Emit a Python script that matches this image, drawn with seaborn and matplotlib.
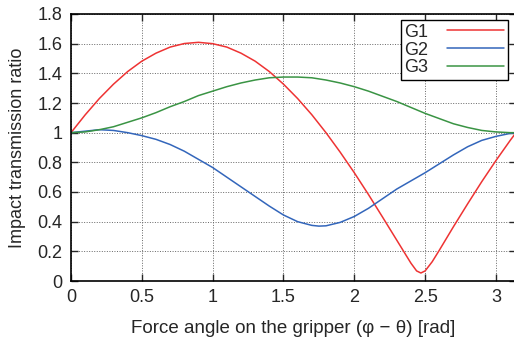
import matplotlib
matplotlib.use("Agg")
import matplotlib.pyplot as plt
import seaborn as sns
import numpy as np
import pandas as pd

x_g1 = [0.0, 0.1, 0.2, 0.3, 0.4, 0.5, 0.6, 0.7, 0.8, 0.9, 1.0, 1.1, 1.2, 1.3, 1.4, 1.5,
        1.6, 1.7, 1.8, 1.9, 2.0, 2.1, 2.2, 2.3, 2.4, 2.44, 2.47, 2.5, 2.55, 2.6, 2.7, 2.8,
        2.9, 3.0, 3.1, 3.1416]
g1 = [1.00, 1.12, 1.23, 1.327, 1.412, 1.482, 1.536, 1.577, 1.601, 1.609, 1.600, 1.577,
      1.536, 1.482, 1.412, 1.327, 1.230, 1.121, 1.000, 0.869, 0.730, 0.583, 0.430, 0.275,
      0.12, 0.068, 0.054, 0.068, 0.13, 0.207, 0.366, 0.520, 0.670, 0.812, 0.947, 1.0]

x_g2 = [0.0, 0.1, 0.2, 0.3, 0.4, 0.5, 0.6, 0.7, 0.8, 0.9, 1.0, 1.1, 1.2, 1.3, 1.4, 1.5,
        1.6, 1.7, 1.75, 1.8, 1.9, 2.0, 2.1, 2.2, 2.3, 2.4, 2.5, 2.6, 2.7, 2.8, 2.9, 3.0,
        3.1, 3.1416]
g2 = [1.00, 1.01, 1.02, 1.015, 1.00, 0.98, 0.955, 0.92, 0.875, 0.82, 0.765, 0.70, 0.635,
      0.57, 0.505, 0.445, 0.40, 0.375, 0.37, 0.372, 0.395, 0.435, 0.49, 0.555, 0.62, 0.675,
      0.73, 0.79, 0.85, 0.905, 0.948, 0.975, 0.995, 1.0]

x_g3 = [0.0, 0.1, 0.2, 0.3, 0.4, 0.5, 0.6, 0.7, 0.8, 0.9, 1.0, 1.1, 1.2, 1.3, 1.4, 1.5,
        1.6, 1.7, 1.8, 1.9, 2.0, 2.1, 2.2, 2.3, 2.4, 2.5, 2.6, 2.7, 2.8, 2.9, 3.0, 3.1,
        3.1416]
g3 = [1.00, 1.005, 1.02, 1.04, 1.07, 1.10, 1.135, 1.175, 1.21, 1.25, 1.28, 1.31, 1.335,
      1.355, 1.37, 1.375, 1.375, 1.37, 1.355, 1.335, 1.31, 1.28, 1.245, 1.21, 1.17, 1.13,
      1.095, 1.06, 1.035, 1.015, 1.005, 1.0, 1.0]

series_names = ["G1", "G2", "G3"]
colors = ["#ee3333", "#3366bb", "#3a9444"]
xticks = [0, 0.5, 1, 1.5, 2, 2.5, 3]
yticks = [0, 0.2, 0.4, 0.6, 0.8, 1, 1.2, 1.4, 1.6, 1.8]
xlabel = "Force angle on the gripper (\u03c6 \u2212 \u03b8) [rad]"
ylabel = "Impact transmission ratio"

df = pd.concat([
    pd.DataFrame({"x": x_g1, "y": g1, "s": "G1"}),
    pd.DataFrame({"x": x_g2, "y": g2, "s": "G2"}),
    pd.DataFrame({"x": x_g3, "y": g3, "s": "G3"}),
], ignore_index=True)

sns.set_style("white")
plt.rcParams["font.family"] = ["Liberation Sans Narrow", "Liberation Sans", "DejaVu Sans"]

W, H = 514, 340
fig = plt.figure(figsize=(W / 100, H / 100), dpi=100)
left, right, top, bottom = 71, 516, 14, 281
ax = fig.add_axes([left / W, 1 - bottom / H, (right - left) / W, (bottom - top) / H])

sns.lineplot(data=df, x="x", y="y", hue="s", palette=dict(zip(series_names, colors)),
             sort=False, estimator=None, linewidth=1.1, ax=ax, legend=True)

ax.set_xlim(0, np.pi)
ax.set_ylim(0, 1.8)
ax.set_xticks(xticks)
ax.set_xticklabels([("%g" % t) for t in xticks])
ax.set_yticks(yticks)
ax.set_yticklabels([("%g" % t) for t in yticks])
ax.grid(True, linestyle=(0, (1, 1.6)), color="#666666", linewidth=0.7)
ax.tick_params(direction="in", length=5, width=1, labelsize=13, pad=6,
               top=True, right=True, bottom=True, left=True)
for sp in ax.spines.values():
    sp.set_color("black")
    sp.set_linewidth(1.2)
ax.set_xlabel(xlabel, fontsize=13.5, labelpad=10)
ax.set_ylabel(ylabel, fontsize=13, labelpad=8)

h, l = ax.get_legend_handles_labels()
leg = ax.legend(h, l, loc="upper right", bbox_to_anchor=((508 - left) / (right - left), 1 - (20 - top) / (bottom - top)),
                markerfirst=False, fontsize=13, frameon=True, fancybox=False,
                handlelength=3.2, handletextpad=1.0, borderpad=0.2, labelspacing=0.05,
                borderaxespad=0)
leg.get_frame().set_edgecolor("black")
leg.get_frame().set_linewidth(1.0)
leg.get_frame().set_alpha(1)

fig.savefig("out.png", dpi=100)
